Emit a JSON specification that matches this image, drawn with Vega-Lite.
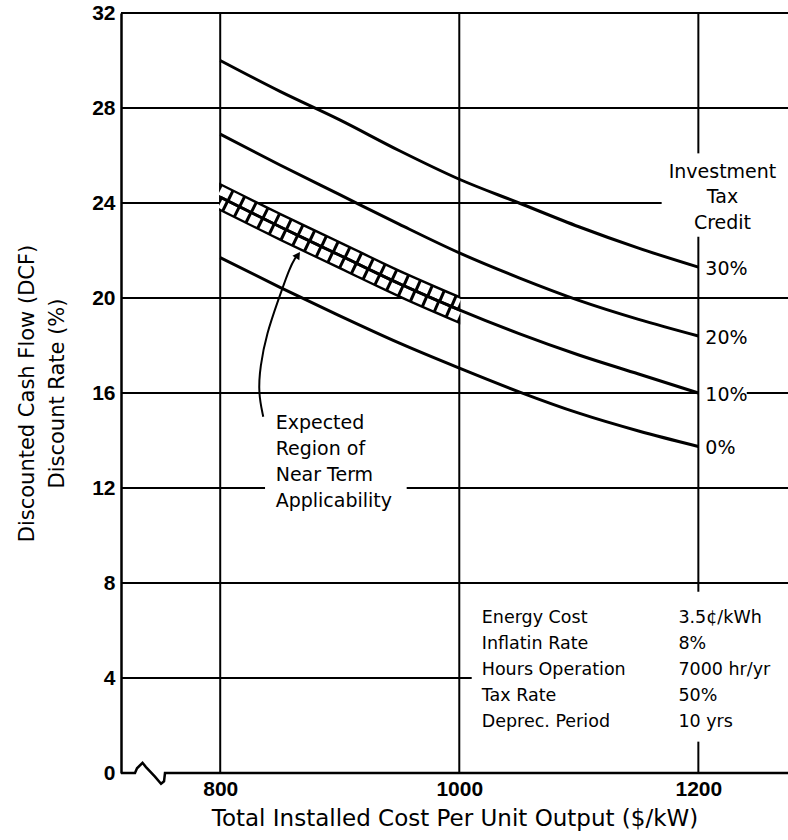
{
  "$schema": "https://vega.github.io/schema/vega-lite/v6.json",
  "width": 667,
  "height": 760,
  "autosize": {"type": "none"},
  "padding": {"left": 121, "top": 13, "right": 0, "bottom": 67},
  "background": "white",
  "config": {
    "view": {"stroke": null},
    "axis": {"labelColor": "black", "titleColor": "black"}
  },
  "datasets": {
    "curves": [
      {"cost": 800, "rate": 30.0, "itc": "30%"}, {"cost": 850, "rate": 28.7, "itc": "30%"}, {"cost": 900, "rate": 27.5, "itc": "30%"}, {"cost": 950, "rate": 26.2, "itc": "30%"}, {"cost": 1000, "rate": 25.0, "itc": "30%"}, {"cost": 1050, "rate": 24.0, "itc": "30%"}, {"cost": 1100, "rate": 23.0, "itc": "30%"}, {"cost": 1150, "rate": 22.1, "itc": "30%"}, {"cost": 1200, "rate": 21.3, "itc": "30%"},
      {"cost": 800, "rate": 26.9, "itc": "20%"}, {"cost": 850, "rate": 25.6, "itc": "20%"}, {"cost": 900, "rate": 24.35, "itc": "20%"}, {"cost": 950, "rate": 23.1, "itc": "20%"}, {"cost": 1000, "rate": 21.9, "itc": "20%"}, {"cost": 1050, "rate": 20.85, "itc": "20%"}, {"cost": 1100, "rate": 19.9, "itc": "20%"}, {"cost": 1150, "rate": 19.1, "itc": "20%"}, {"cost": 1200, "rate": 18.4, "itc": "20%"},
      {"cost": 800, "rate": 24.25, "itc": "10%"}, {"cost": 850, "rate": 23.0, "itc": "10%"}, {"cost": 900, "rate": 21.8, "itc": "10%"}, {"cost": 950, "rate": 20.6, "itc": "10%"}, {"cost": 1000, "rate": 19.5, "itc": "10%"}, {"cost": 1050, "rate": 18.5, "itc": "10%"}, {"cost": 1100, "rate": 17.6, "itc": "10%"}, {"cost": 1150, "rate": 16.8, "itc": "10%"}, {"cost": 1200, "rate": 16.0, "itc": "10%"},
      {"cost": 800, "rate": 21.7, "itc": "0%"}, {"cost": 850, "rate": 20.45, "itc": "0%"}, {"cost": 900, "rate": 19.25, "itc": "0%"}, {"cost": 950, "rate": 18.1, "itc": "0%"}, {"cost": 1000, "rate": 17.05, "itc": "0%"}, {"cost": 1050, "rate": 16.05, "itc": "0%"}, {"cost": 1100, "rate": 15.15, "itc": "0%"}, {"cost": 1150, "rate": 14.4, "itc": "0%"}, {"cost": 1200, "rate": 13.75, "itc": "0%"}
    ],
    "band": [
      {"cost": 800, "lo": 23.7, "hi": 24.8, "u": 24.525, "l": 23.975},
      {"cost": 850, "lo": 22.45, "hi": 23.55, "u": 23.275, "l": 22.725},
      {"cost": 900, "lo": 21.25, "hi": 22.35, "u": 22.075, "l": 21.525},
      {"cost": 950, "lo": 20.05, "hi": 21.15, "u": 20.875, "l": 20.325},
      {"cost": 1000, "lo": 18.95, "hi": 20.05, "u": 19.775, "l": 19.225}
    ],
    "hgrid": [
      {"gy": 32, "gx1": 717, "gx2": 1275}, {"gy": 28, "gx1": 717, "gx2": 1275},
      {"gy": 24, "gx1": 717, "gx2": 1169.3}, {"gy": 20, "gx1": 717, "gx2": 1275},
      {"gy": 16, "gx1": 717, "gx2": 1200}, {"gy": 16, "gx1": 1240.5, "gx2": 1275},
      {"gy": 12, "gx1": 717, "gx2": 837.5}, {"gy": 12, "gx1": 956, "gx2": 1275},
      {"gy": 8, "gx1": 717, "gx2": 1275}, {"gy": 4, "gx1": 717, "gx2": 1010.4}
    ],
    "vgrid": [
      {"gx": 800, "gy1": 0, "gy2": 32}, {"gx": 1000, "gy1": 0, "gy2": 32},
      {"gx": 1200, "gy1": 26.09, "gy2": 32}, {"gx": 1200, "gy1": 7.63, "gy2": 22.58}, {"gx": 1200, "gy1": 0, "gy2": 1.32}
    ],
    "baseline": [
      {"bx": 717, "by": 0, "o": 1}, {"bx": 728.7, "by": 0, "o": 2}, {"bx": 730.4, "by": 0.2, "o": 3},
      {"bx": 735.0, "by": 0.43, "o": 4}, {"bx": 737.9, "by": 0.25, "o": 5}, {"bx": 745.4, "by": -0.15, "o": 6},
      {"bx": 750.5, "by": -0.45, "o": 7}, {"bx": 753.0, "by": -0.35, "o": 8}, {"bx": 753.8, "by": 0, "o": 9},
      {"bx": 1275, "by": 0, "o": 10}
    ],
    "arrow": [
      {"ax": 836.0, "ay": 15.0, "o": 1}, {"ax": 831.9, "ay": 15.99, "o": 2}, {"ax": 833.3, "ay": 17.11, "o": 3},
      {"ax": 838.9, "ay": 18.51, "o": 4}, {"ax": 848.6, "ay": 19.92, "o": 5}, {"ax": 858.4, "ay": 21.32, "o": 6},
      {"ax": 863.4, "ay": 21.73, "o": 7}
    ],
    "arrowhead": [{"ax": 865.0, "ay": 21.81}],
    "notesCenter": [{"tx": 1220.2, "ty": 25.32, "label": "Investment\nTax\nCredit"}],
    "notesLeft": [{"tx": 846.4, "ty": 14.72, "label": "Expected\nRegion of\nNear Term\nApplicability"}],
    "table": [
      {"tx": 1018.8, "ty": 6.51, "label": "Energy Cost\nInflatin Rate\nHours Operation\nTax Rate\nDeprec. Period"},
      {"tx": 1183.3, "ty": 6.51, "label": "3.5¢/kWh\n8%\n7000 hr/yr\n50%\n10 yrs"}
    ]
  },
  "layer": [
    {
      "data": {"name": "hgrid"},
      "mark": {"type": "rule", "color": "black", "strokeWidth": 2},
      "encoding": {
        "x": {"field": "gx1", "type": "quantitative", "scale": {"domain": [717, 1275], "nice": false, "zero": false},
          "axis": {"values": [800, 1000, 1200], "format": "d", "grid": false, "ticks": false, "domain": false, "labelFont": "Liberation Sans", "labelFontSize": 21, "labelFontWeight": "bold", "labelPadding": 5,
            "title": "Total Installed Cost Per Unit Output ($/kW)", "titleFont": "DejaVu Sans", "titleFontSize": 23, "titleFontWeight": "normal", "titlePadding": 8}},
        "x2": {"field": "gx2"},
        "y": {"field": "gy", "type": "quantitative", "scale": {"domain": [0, 32], "nice": false},
          "axis": {"values": [0, 4, 8, 12, 16, 20, 24, 28, 32], "grid": false, "ticks": false, "domain": true, "domainColor": "black", "domainWidth": 2.5,
            "labelFont": "Liberation Sans", "labelFontSize": 21, "labelFontWeight": "bold", "labelPadding": 6,
            "title": ["Discounted Cash Flow (DCF)", "Discount Rate (%)"], "titleFont": "DejaVu Sans", "titleFontSize": 21, "titleFontWeight": "normal", "titleLineHeight": 30, "titlePadding": 24}}
      }
    },
    {
      "data": {"name": "vgrid"},
      "mark": {"type": "rule", "color": "black", "strokeWidth": 2},
      "encoding": {
        "x": {"field": "gx", "type": "quantitative", "scale": {"domain": [717, 1275], "nice": false, "zero": false}},
        "y": {"field": "gy1", "type": "quantitative", "scale": {"domain": [0, 32], "nice": false}},
        "y2": {"field": "gy2"}
      }
    },
    {
      "data": {"name": "baseline"},
      "mark": {"type": "line", "color": "black", "strokeWidth": 2.5, "interpolate": "linear"},
      "encoding": {
        "x": {"field": "bx", "type": "quantitative", "scale": {"domain": [717, 1275], "nice": false, "zero": false}},
        "y": {"field": "by", "type": "quantitative", "scale": {"domain": [0, 32], "nice": false}},
        "order": {"field": "o"}
      }
    },
    {
      "data": {"name": "band"},
      "mark": {"type": "area", "fill": "black", "stroke": "black", "strokeWidth": 2, "interpolate": "monotone"},
      "encoding": {
        "x": {"field": "cost", "type": "quantitative", "scale": {"domain": [717, 1275], "nice": false, "zero": false}},
        "y": {"field": "lo", "type": "quantitative", "scale": {"domain": [0, 32], "nice": false}},
        "y2": {"field": "hi"}
      }
    },
    {
      "data": {"name": "band"},
      "mark": {"type": "line", "color": "white", "strokeWidth": 9, "strokeDash": [10, 3], "strokeCap": "butt", "interpolate": "monotone"},
      "encoding": {
        "x": {"field": "cost", "type": "quantitative", "scale": {"domain": [717, 1275], "nice": false, "zero": false}},
        "y": {"field": "u", "type": "quantitative", "scale": {"domain": [0, 32], "nice": false}}
      }
    },
    {
      "data": {"name": "band"},
      "mark": {"type": "line", "color": "white", "strokeWidth": 9, "strokeDash": [10, 3], "strokeDashOffset": 6, "strokeCap": "butt", "interpolate": "monotone"},
      "encoding": {
        "x": {"field": "cost", "type": "quantitative", "scale": {"domain": [717, 1275], "nice": false, "zero": false}},
        "y": {"field": "l", "type": "quantitative", "scale": {"domain": [0, 32], "nice": false}}
      }
    },
    {
      "data": {"name": "curves"},
      "mark": {"type": "line", "color": "black", "strokeWidth": 3, "interpolate": "monotone"},
      "encoding": {
        "x": {"field": "cost", "type": "quantitative", "scale": {"domain": [717, 1275], "nice": false, "zero": false}},
        "y": {"field": "rate", "type": "quantitative", "scale": {"domain": [0, 32], "nice": false}},
        "detail": {"field": "itc"}
      }
    },
    {
      "data": {"name": "curves"},
      "transform": [{"filter": "datum.cost == 1200"}],
      "mark": {"type": "text", "align": "left", "baseline": "middle", "dx": 7, "dy": 2, "font": "DejaVu Sans", "fontSize": 19, "color": "black"},
      "encoding": {
        "x": {"field": "cost", "type": "quantitative", "scale": {"domain": [717, 1275], "nice": false, "zero": false}},
        "y": {"field": "rate", "type": "quantitative", "scale": {"domain": [0, 32], "nice": false}},
        "text": {"field": "itc"}
      }
    },
    {
      "data": {"name": "arrow"},
      "mark": {"type": "line", "color": "black", "strokeWidth": 2, "interpolate": "basis"},
      "encoding": {
        "x": {"field": "ax", "type": "quantitative", "scale": {"domain": [717, 1275], "nice": false, "zero": false}},
        "y": {"field": "ay", "type": "quantitative", "scale": {"domain": [0, 32], "nice": false}},
        "order": {"field": "o"}
      }
    },
    {
      "data": {"name": "arrowhead"},
      "mark": {"type": "point", "shape": "triangle-up", "filled": true, "color": "black", "size": 70, "angle": 34, "opacity": 1},
      "encoding": {
        "x": {"field": "ax", "type": "quantitative", "scale": {"domain": [717, 1275], "nice": false, "zero": false}},
        "y": {"field": "ay", "type": "quantitative", "scale": {"domain": [0, 32], "nice": false}}
      }
    },
    {
      "data": {"name": "notesCenter"},
      "mark": {"type": "text", "align": "center", "baseline": "middle", "lineBreak": "\n", "lineHeight": 25.5, "font": "DejaVu Sans", "fontSize": 19, "color": "black"},
      "encoding": {
        "x": {"field": "tx", "type": "quantitative", "scale": {"domain": [717, 1275], "nice": false, "zero": false}},
        "y": {"field": "ty", "type": "quantitative", "scale": {"domain": [0, 32], "nice": false}},
        "text": {"field": "label"}
      }
    },
    {
      "data": {"name": "notesLeft"},
      "mark": {"type": "text", "align": "left", "baseline": "middle", "lineBreak": "\n", "lineHeight": 26, "font": "DejaVu Sans", "fontSize": 19, "color": "black"},
      "encoding": {
        "x": {"field": "tx", "type": "quantitative", "scale": {"domain": [717, 1275], "nice": false, "zero": false}},
        "y": {"field": "ty", "type": "quantitative", "scale": {"domain": [0, 32], "nice": false}},
        "text": {"field": "label"}
      }
    },
    {
      "data": {"name": "table"},
      "mark": {"type": "text", "align": "left", "baseline": "middle", "lineBreak": "\n", "lineHeight": 25.8, "font": "DejaVu Sans", "fontSize": 17.5, "color": "black"},
      "encoding": {
        "x": {"field": "tx", "type": "quantitative", "scale": {"domain": [717, 1275], "nice": false, "zero": false}},
        "y": {"field": "ty", "type": "quantitative", "scale": {"domain": [0, 32], "nice": false}},
        "text": {"field": "label"}
      }
    }
  ]
}
